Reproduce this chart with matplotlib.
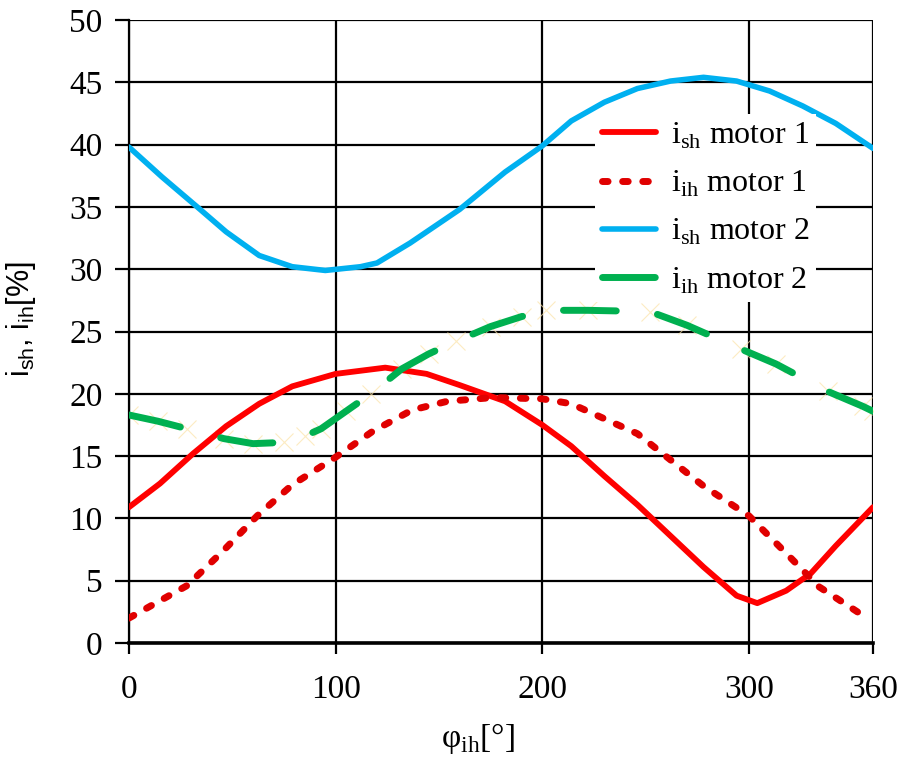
import numpy as np
import matplotlib
matplotlib.use("Agg")
import matplotlib.pyplot as plt

plt.rcParams['font.family'] = ['Liberation Serif', 'DejaVu Serif']
plt.rcParams['mathtext.fontset'] = 'custom'
plt.rcParams['mathtext.rm'] = 'Liberation Serif'
plt.rcParams['mathtext.sf'] = 'Liberation Sans'
plt.rcParams['lines.scale_dashes'] = False

# motor 1, fundamental (shaft) current vs. phase angle
phi_sh1 = [0, 15, 31, 47, 63, 79, 100, 124, 144, 160, 182, 200, 214,
           230, 246, 262, 278, 294, 304, 318, 330, 342, 360]
ish_m1 = [10.9, 12.8, 15.2, 17.4, 19.2, 20.6, 21.6, 22.1, 21.6, 20.7, 19.4,
          17.5, 15.8, 13.4, 11.1, 8.6, 6.1, 3.8, 3.2, 4.2, 5.6, 7.8, 10.9]

# motor 1, injected harmonic current
phi_ih1 = [0, 28, 45, 62, 79, 99, 118, 137, 154, 176, 200, 214, 230,
           246, 262, 278, 300, 318, 334, 358]
iih_m1 = [2.0, 4.6, 7.3, 10.2, 12.7, 14.8, 17.0, 18.7, 19.4, 19.7, 19.6,
          19.2, 18.0, 16.8, 14.7, 12.6, 10.2, 7.2, 4.5, 1.9]

# motor 2, fundamental current
phi_sh2 = [0, 16, 33, 47, 63, 79, 95, 112, 120, 136, 160, 182, 200, 214,
           230, 246, 262, 278, 294, 310, 326, 342, 360]
ish_m2 = [39.8, 37.4, 35.0, 33.0, 31.1, 30.2, 29.9, 30.2, 30.5, 32.1, 34.8,
          37.8, 39.9, 41.9, 43.4, 44.5, 45.1, 45.4, 45.1, 44.3, 43.1, 41.7,
          39.7]

# motor 2, injected harmonic current
phi_ih2 = [0, 14, 28, 46, 60, 75, 85, 93, 105, 117, 132, 145, 158, 175,
           190, 202, 222, 252, 270, 296, 313, 338, 355, 360]
iih_m2 = [18.3, 17.8, 17.2, 16.4, 16.0, 16.1, 16.6, 17.2, 18.6, 20.0, 22.0,
          23.2, 24.2, 25.4, 26.2, 26.7, 26.7, 26.6, 25.5, 23.6, 22.4, 20.2,
          19.0, 18.6]

fig = plt.figure(figsize=(9.04, 7.58), dpi=100)
ax = fig.add_axes([0.1427, 0.1517, 0.823, 0.8219])

ax.plot(phi_sh1, ish_m1, color='#FF0000', lw=4.2, solid_capstyle='round',
        solid_joinstyle='round', label=r'i$_{\mathrm{sh}}$ motor 1', zorder=4)
ax.plot(phi_ih1, iih_m1, color='#E00000', lw=5.0, dash_capstyle='round',
        ls=(0, (4.0, 10.5)), label=r'i$_{\mathrm{ih}}$ motor 1', zorder=4)
ax.plot(phi_sh2, ish_m2, color='#00B0F0', lw=4.0, solid_capstyle='round',
        solid_joinstyle='round', label=r'i$_{\mathrm{sh}}$ motor 2', zorder=4)
ax.plot(phi_ih2, iih_m2, color='#00B050', lw=5.0, dash_capstyle='round',
        ls=(0, (38, 30)), label=r'i$_{\mathrm{ih}}$ motor 2', zorder=4)
# faint point markers on the motor 2 harmonic curve
ax.plot(phi_ih2, iih_m2, ls='none', marker='x', ms=13, mew=0.8,
        color='#FBE3A8', alpha=0.7, zorder=3)

ax.set_xlim(0, 360)
ax.set_ylim(0, 50)
ax.set_xticks([0, 100, 200, 300, 360])
ax.set_yticks(np.arange(0, 51, 5))
ax.grid(True, color='black', lw=1.6)
ax.set_axisbelow(True)

for side in ['top', 'right']:
    ax.spines[side].set_visible(False)
ax.spines['left'].set_linewidth(1.6)
ax.spines['bottom'].set_linewidth(2.6)

ax.tick_params(axis='x', direction='out', length=8, width=1.6, pad=15,
               labelsize=24)
ax.tick_params(axis='y', direction='out', length=10, width=1.6, pad=9,
               labelsize=24)

ax.set_xlabel('φ$_{\\mathrm{ih}}$[°]', fontsize=24)
ax.xaxis.set_label_coords(0.469, -0.125)
ax.set_ylabel(r'i$_{\mathsf{sh}}$, i$_{\mathsf{ih}}$[%]', fontsize=22,
              family='Liberation Sans')
ax.yaxis.set_label_coords(-0.122, 0.52)

leg = ax.legend(loc='upper left', bbox_to_anchor=(0.627, 0.849),
                fontsize=23, frameon=True, fancybox=False, framealpha=1,
                edgecolor='none', facecolor='white', handlelength=1.7,
                handletextpad=0.45, labelspacing=0.56, borderpad=0.2,
                borderaxespad=0)
leg.set_zorder(5)

fig.savefig('out.png', dpi=100)
